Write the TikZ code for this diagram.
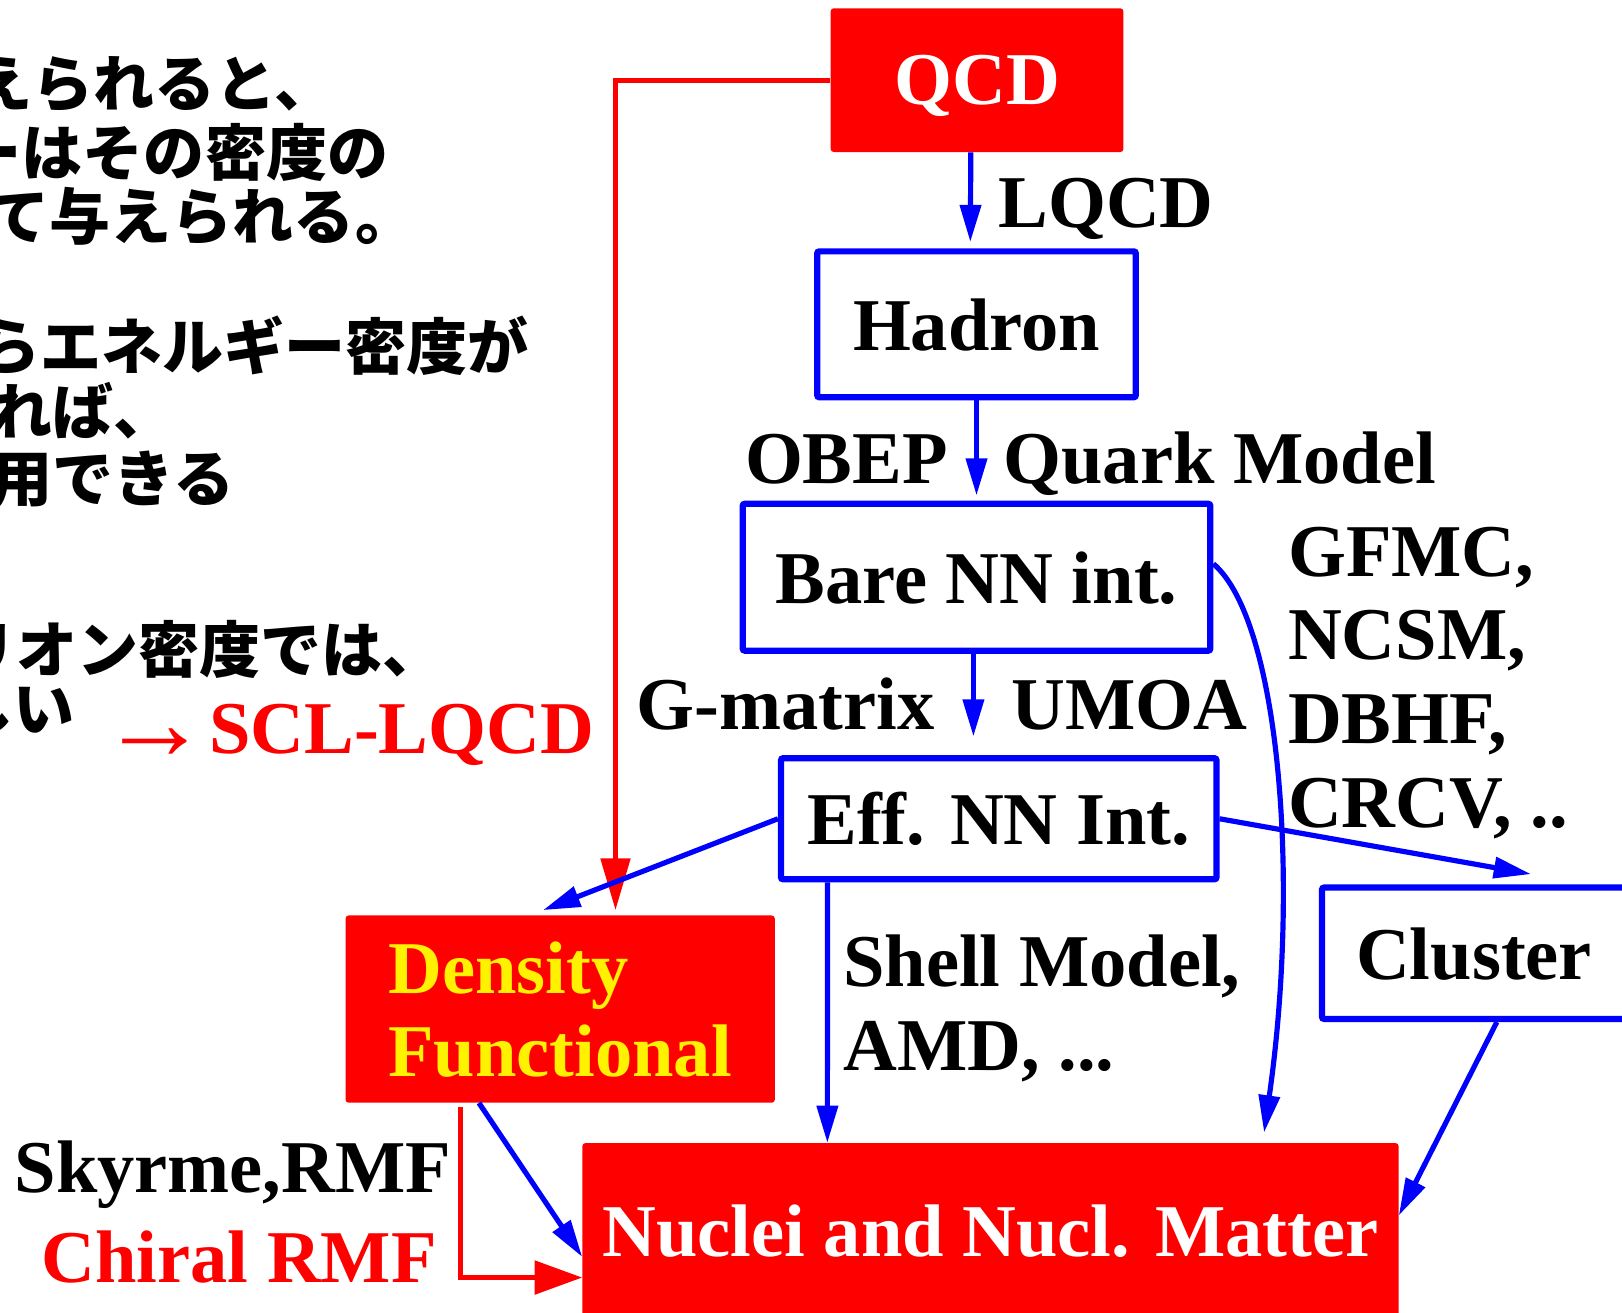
\documentclass[tikz,border=0pt]{standalone}
\usepackage{fontspec}
\setmainfont{Liberation Serif}
\newfontfamily\jpfont{Noto Sans CJK JP}
\usetikzlibrary{arrows.meta}

\newcommand\romanbig{\fontsize{72}{81}\selectfont\bfseries}
\newcommand\jpbig{\jpfont\fontsize{59}{64}\selectfont\bfseries}

\tikzset{
  redbox/.style={fill=red, rounded corners=3pt, inner sep=0pt, text=white,
                 font=\romanbig, text depth=0pt},
  bluebox/.style={draw=blue, line width=6pt, fill=white, inner sep=0pt,
                  rounded corners=2pt, font=\romanbig, text depth=0pt},
  lbl/.style={anchor=base west, inner sep=0pt, font=\romanbig, align=left},
  jptext/.style={anchor=base west, inner sep=0pt, font=\jpbig},
  bluearrow/.style={draw=blue, line width=5pt, -{Triangle[length=36pt,width=20pt]}},
  redarrow/.style={draw=red, line width=5pt, -{Triangle[length=50pt,width=28pt]}},
  redarrowwide/.style={draw=red, line width=5pt, -{Triangle[length=46pt,width=32pt]}},
}

\begin{document}
\begin{tikzpicture}[x=1pt, y=-1pt]

\useasboundingbox (0,0) rectangle (1568,1269);

% Japanese notes (cut at the left edge)
\foreach \txt/\xx/\yy [count=\i] in {%
    えられると、/-28/103, ーはその密度の/-38/170, て与えられる。/-11/232,
    らエネルギー密度が/-20/357, れば、/-8/420, 用できる/-8/485,
    リオン密度では、/-43/650, しい/-46/707}
  \node[jptext] (jp\i) at (\xx,\yy) {\txt};

\node[lbl, text=red] (scl) at (97,728)
  {{\mdseries\fontsize{105}{105}\selectfont\raisebox{-6pt}{→}}SCL-LQCD};

% Boxes
\node[redbox, minimum width=283, minimum height=139] (qcd) at (944.5,77.5) {QCD};
\node[bluebox, minimum width=308, minimum height=141] (hadron) at (944,313.5) {Hadron};
\node[bluebox, minimum width=452, minimum height=142] (bare) at (944,558) {Bare NN int.};
\node[bluebox, minimum width=421, minimum height=117] (eff) at (965.5,791.5) {Eff. NN Int.};
\node[redbox, minimum width=415, minimum height=181, text=yellow, align=left] (df)
  at (541.5,975.5) {Density\\Functional};
\node[bluebox, minimum width=294, minimum height=127] (cluster) at (1425,921.5) {Cluster};
\node[redbox, minimum width=789, minimum height=170] (nuclei) at (957.5,1190)
  {Nuclei and Nucl. Matter};

% Method labels (base = baseline of the last line)
\node[lbl] (lqcd) at (965,220) {LQCD};
\node[lbl] (obep) at (720,467) {OBEP};
\node[lbl] (quark) at (970,467) {Quark Model};
\node[lbl] (gmat) at (615,705) {G-matrix};
\node[lbl] (umoa) at (978,705) {UMOA};
\node[lbl] (abinit) at (1245,800) {GFMC,\\NCSM,\\DBHF,\\CRCV, ..};
\node[lbl] (shell) at (815,1035) {Shell Model,\\AMD, ...};
\node[lbl] (skyrme) at (14,1153) {Skyrme,RMF};
\node[lbl, text=red] (chiral) at (40,1240) {Chiral RMF};

% Connectors
\draw[redarrow] (qcd.west) -| ([xshift=53.5pt,yshift=5pt]df.north);
\draw[bluearrow] ([xshift=-6pt]qcd.south) -- ([xshift=-6pt,yshift=6pt]hadron.north);
\draw[bluearrow] (hadron.south) -- ([yshift=5pt]bare.north);
\draw[bluearrow] ([xshift=-3pt]bare.south) -- ([xshift=-24.5pt,yshift=18pt]eff.north);
\draw[bluearrow] (eff.west) -- ([xshift=-16.5pt,yshift=5pt]df.north);
\draw[bluearrow] (eff.east) -- ([xshift=55pt,yshift=10pt]cluster.north);
\draw[bluearrow] ([yshift=13pt]bare.east) .. controls (1237,600) and (1257,850)
  .. ([xshift=264.5pt,yshift=10pt]nuclei.north);
\draw[bluearrow] ([xshift=48pt]eff.south west) -- ([xshift=237pt]nuclei.north west);
\draw[bluearrow] ([xshift=-78.5pt]df.south) -- ([yshift=-25pt]nuclei.west);
\draw[redarrowwide] ([xshift=-96.5pt,yshift=-4pt]df.south) |- ([yshift=-45pt]nuclei.west);
\draw[bluearrow] ([xshift=22pt]cluster.south) -- ([yshift=15pt]nuclei.east);

\end{tikzpicture}
\end{document}
